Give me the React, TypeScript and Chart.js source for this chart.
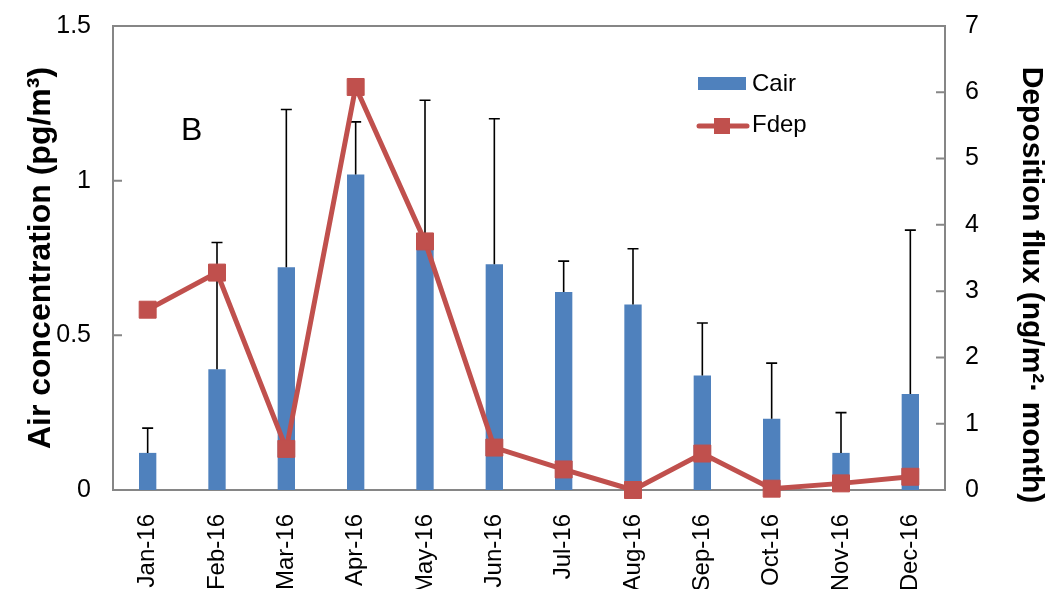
import React, { useEffect, useRef } from "react";
import { Chart, registerables } from "chart.js";

Chart.register(...registerables);

const months = ["Jan-16", "Feb-16", "Mar-16", "Apr-16", "May-16", "Jun-16", "Jul-16", "Aug-16", "Sep-16", "Oct-16", "Nov-16", "Dec-16"];
const cairMean = [0.12, 0.39, 0.72, 1.02, 0.78, 0.73, 0.64, 0.6, 0.37, 0.23, 0.12, 0.31];
const cairErr = [0.08, 0.41, 0.51, 0.17, 0.48, 0.47, 0.1, 0.18, 0.17, 0.18, 0.13, 0.53];
const fdep = [2.72, 3.28, 0.62, 6.08, 3.75, 0.64, 0.31, 0.0, 0.55, 0.02, 0.1, 0.2];
const leftTicks = [0, 0.5, 1, 1.5];
const rightTicks = [0, 1, 2, 3, 4, 5, 6, 7];
const seriesNames = ["Cair", "Fdep"];
const panelLabel = "B";
const leftTitle = "Air concentration (pg/m\u00B3)";
const rightTitle = "Deposition flux (ng/m\u00B2\u00B7 month)";

const FONT = "'Liberation Sans', Arial, sans-serif";
const BLUE = "#4F81BD";
const RED = "#C0504D";
const AXIS = "#868686";

const W = 1057;
const H = 589;

const customPlugin = {
  id: "customDecor",
  beforeDatasetsDraw(chart: any) {
    const { ctx, chartArea: a } = chart;
    const y = chart.scales.y;
    const y1 = chart.scales.y1;
    ctx.save();
    ctx.strokeStyle = AXIS;
    ctx.lineWidth = 2;
    ctx.strokeRect(a.left, a.top, a.right - a.left, a.bottom - a.top);
    ctx.beginPath();
    leftTicks.forEach((v) => {
      const p = y.getPixelForValue(v);
      ctx.moveTo(a.left, p);
      ctx.lineTo(a.left + 9, p);
    });
    rightTicks.forEach((v) => {
      const p = y1.getPixelForValue(v);
      ctx.moveTo(a.right - 9, p);
      ctx.lineTo(a.right, p);
    });
    ctx.stroke();
    ctx.restore();
  },
  afterDatasetDraw(chart: any, args: any) {
    if (args.index !== 0) return;
    const { ctx } = chart;
    const y = chart.scales.y;
    ctx.save();
    ctx.strokeStyle = "#000";
    ctx.lineWidth = 1.6;
    args.meta.data.forEach((bar: any, i: number) => {
      const x = bar.x;
      const yTop = y.getPixelForValue(cairMean[i] + cairErr[i]);
      ctx.beginPath();
      ctx.moveTo(x, bar.y);
      ctx.lineTo(x, yTop);
      ctx.moveTo(x - 5.5, yTop);
      ctx.lineTo(x + 5.5, yTop);
      ctx.stroke();
    });
    ctx.restore();
  },
  afterDraw(chart: any) {
    const { ctx } = chart;
    ctx.save();
    ctx.fillStyle = "#000";
    ctx.font = `32px ${FONT}`;
    ctx.textBaseline = "alphabetic";
    ctx.textAlign = "left";
    ctx.fillText(panelLabel, 181, 140);

    // legend
    ctx.fillStyle = BLUE;
    ctx.fillRect(698, 77, 48, 13);
    ctx.strokeStyle = RED;
    ctx.lineWidth = 5;
    ctx.lineCap = "round";
    ctx.beginPath();
    ctx.moveTo(699, 126);
    ctx.lineTo(747, 126);
    ctx.stroke();
    ctx.fillStyle = RED;
    ctx.fillRect(714, 118, 16, 16);
    ctx.fillStyle = "#000";
    ctx.font = `24px ${FONT}`;
    ctx.fillText(seriesNames[0], 752, 91);
    ctx.fillText(seriesNames[1], 752, 132);

    // right axis title (rotated clockwise)
    ctx.save();
    ctx.translate(1031, 285);
    ctx.rotate(Math.PI / 2);
    ctx.font = `bold 30px ${FONT}`;
    ctx.textAlign = "center";
    ctx.textBaseline = "middle";
    ctx.fillText(rightTitle, 0, 0);
    ctx.restore();

    ctx.restore();
  },
};

const zeroPad = (s: any) => {
  s.paddingTop = 0;
  s.paddingBottom = 0;
  s.paddingLeft = 0;
  s.paddingRight = 0;
};

export default function App() {
  const canvasRef = useRef<HTMLCanvasElement | null>(null);

  useEffect(() => {
    document.body.style.margin = "0";
    const canvas = canvasRef.current;
    if (!canvas) return;
    const chart = new Chart(canvas, {
      type: "bar",
      data: {
        labels: months,
        datasets: [
          {
            type: "bar",
            label: seriesNames[0],
            data: cairMean,
            backgroundColor: BLUE,
            borderWidth: 0,
            yAxisID: "y",
            categoryPercentage: 0.25,
            barPercentage: 1,
            order: 2,
          },
          {
            type: "line",
            label: seriesNames[1],
            data: fdep,
            borderColor: RED,
            backgroundColor: RED,
            borderWidth: 5,
            pointStyle: "rect",
            pointRadius: 12,
            pointBorderWidth: 1,
            pointBorderColor: RED,
            pointBackgroundColor: RED,
            yAxisID: "y1",
            tension: 0,
            clip: false,
            order: 1,
          } as any,
        ],
      },
      options: {
        animation: false,
        responsive: false,
        devicePixelRatio: 1,
        layout: { padding: { top: 26, left: 0, right: 0, bottom: 0 } },
        plugins: {
          legend: { display: false },
          tooltip: { enabled: false },
        },
        scales: {
          x: {
            type: "category",
            grid: { display: false },
            border: { display: false },
            ticks: {
              color: "#000",
              font: { family: FONT, size: 24 },
              minRotation: 90,
              maxRotation: 90,
              padding: 16,
              autoSkip: false,
            },
            afterFit: (s: any) => {
              s.height = H - 490;
              zeroPad(s);
            },
          },
          y: {
            type: "linear",
            position: "left",
            min: 0,
            max: 1.5,
            grid: { display: false, drawTicks: false },
            border: { display: false },
            afterBuildTicks: (s: any) => {
              s.ticks = leftTicks.map((v) => ({ value: v }));
            },
            ticks: {
              color: "#000",
              font: { family: FONT, size: 25 },
              padding: 22,
              callback: (v: any) => String(v),
            },
            title: {
              display: true,
              text: leftTitle,
              color: "#000",
              font: { family: FONT, size: 32, weight: "bold" },
              padding: { top: 22, bottom: 0 },
            },
            afterFit: (s: any) => {
              s.width = 113;
              zeroPad(s);
            },
          },
          y1: {
            type: "linear",
            position: "right",
            min: 0,
            max: 7,
            grid: { display: false, drawTicks: false },
            border: { display: false },
            afterBuildTicks: (s: any) => {
              s.ticks = rightTicks.map((v) => ({ value: v }));
            },
            ticks: {
              color: "#000",
              font: { family: FONT, size: 25 },
              padding: 20,
              callback: (v: any) => String(v),
            },
            title: { display: false },
            afterFit: (s: any) => {
              s.width = W - 945;
              zeroPad(s);
            },
          },
        },
      },
      plugins: [customPlugin],
    } as any);
    return () => chart.destroy();
  }, []);

  return (
    <div style={{ width: W, height: H }}>
      <canvas ref={canvasRef} width={W} height={H} style={{ display: "block", width: W, height: H }} />
    </div>
  );
}
